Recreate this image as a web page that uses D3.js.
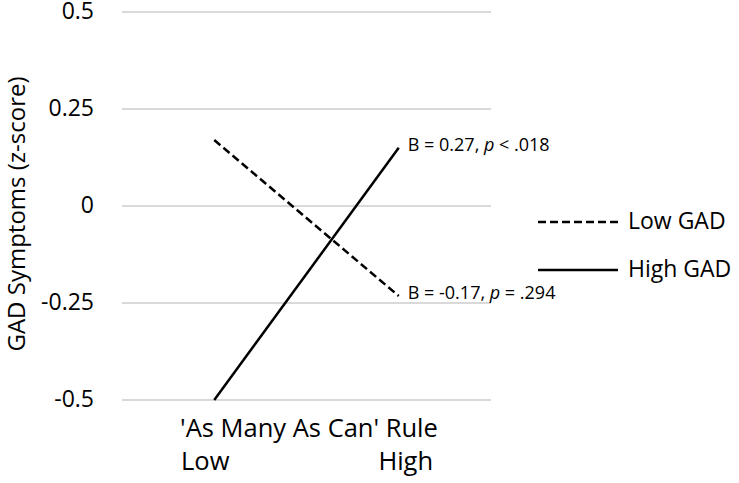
<!DOCTYPE html>
<html><head><meta charset="utf-8">
<script src="https://cdn.jsdelivr.net/npm/d3@7"></script>
<style>body{margin:0;background:#fff}svg{display:block}text{font-family:"Open Sans",sans-serif;fill:#000}</style>
</head><body><svg id="c" width="739" height="483"></svg>
<script>
const categories = ["Low", "High"];
const seriesNames = ["Low GAD", "High GAD"];
const lowGAD = [0.17, -0.232];
const highGAD = [-0.5, 0.15];
const yTicks = [0.5, 0.25, 0, -0.25, -0.5];
const yTickLabels = ["0.5", "0.25", "0", "-0.25", "-0.5"];
const annotations = [
  {pre: "B = 0.27, ", it: "p", post: " < .018", series: 1},
  {pre: "B = -0.17, ", it: "p", post: " = .294", series: 0}
];

const svg = d3.select("#c");
const x = d3.scalePoint().domain(categories).range([122, 491]).padding(0.5);
const y = d3.scaleLinear().domain([-0.5, 0.5]).range([400, 12]);

svg.append("g").selectAll("line").data(yTicks).join("line")
  .attr("x1", 122).attr("x2", 491)
  .attr("y1", d => y(d)).attr("y2", d => y(d))
  .attr("stroke", "#d9d9d9").attr("stroke-width", 2);

svg.append("g").selectAll("text").data(yTicks).join("text")
  .attr("x", 94).attr("y", d => y(d) + 7)
  .attr("text-anchor", "end").attr("font-size", 23)
  .text((d, i) => yTickLabels[i]);

svg.append("text").attr("transform", "translate(25,214) rotate(-90)")
  .attr("text-anchor", "middle").attr("font-size", 24)
  .text("GAD Symptoms (z-score)");

svg.append("text").attr("x", 309).attr("y", 437)
  .attr("text-anchor", "middle").attr("font-size", 25.5)
  .text("'As Many As Can' Rule");
svg.append("g").selectAll("text").data(categories).join("text")
  .attr("x", d => x(d) + (d === "Low" ? -9 : 7)).attr("y", 470)
  .attr("text-anchor", "middle").attr("font-size", 25.5)
  .text(d => d);

const data = [lowGAD, highGAD];
const dashes = ["8,4", null];
const line = d3.line().x((d, i) => x(categories[i])).y(d => y(d));
svg.append("g").selectAll("path").data(data).join("path")
  .attr("d", line).attr("fill", "none").attr("stroke", "#000")
  .attr("stroke-width", 2.5)
  .attr("stroke-dasharray", (d, i) => dashes[i]);

annotations.forEach(a => {
  const t = svg.append("text")
    .attr("x", x("High") + 9).attr("y", y(data[a.series][1]) + 3)
    .attr("font-size", 18);
  t.append("tspan").text(a.pre);
  t.append("tspan").attr("font-style", "italic").text(a.it);
  t.append("tspan").text(a.post);
});

const legY = [222, 270];
const lg = svg.append("g");
seriesNames.forEach((s, i) => {
  lg.append("line").attr("x1", 538).attr("x2", 618).attr("y1", legY[i]).attr("y2", legY[i])
    .attr("stroke", "#000").attr("stroke-width", 2.5).attr("stroke-dasharray", dashes[i]);
  lg.append("text").attr("x", 628).attr("y", legY[i] + 7)
    .attr("font-size", 23).text(s);
});
</script></body></html>
